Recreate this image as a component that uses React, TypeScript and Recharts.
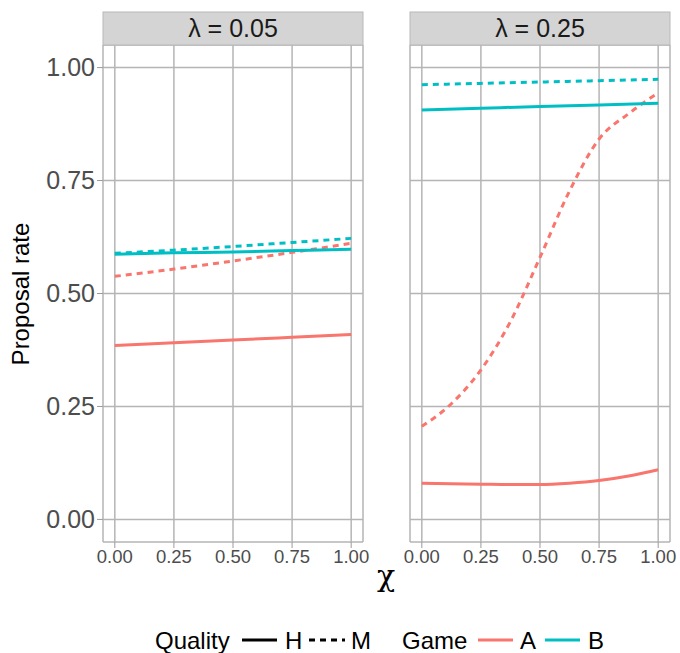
import React from "react";
import { LineChart, Line, XAxis, YAxis, CartesianGrid } from "recharts";

const chiLinear = [0, 0.25, 0.5, 0.75, 1];
const chiCurve = [0, 0.125, 0.25, 0.375, 0.5, 0.625, 0.75, 0.875, 1];
const ticks = [0, 0.25, 0.5, 0.75, 1];

// lambda = 0.05
const lowAH = [0.385, 0.391, 0.397, 0.403, 0.409];
const lowAM = [0.538, 0.554, 0.572, 0.591, 0.611];
const lowBH = [0.587, 0.59, 0.592, 0.595, 0.598];
const lowBM = [0.589, 0.596, 0.604, 0.613, 0.622];

// lambda = 0.25
const highAH = [0.08, 0.079, 0.078, 0.077, 0.077, 0.08, 0.086, 0.096, 0.11];
const highAM = [0.206, 0.256, 0.331, 0.438, 0.58, 0.727, 0.842, 0.898, 0.944];
const highBH = [0.906, 0.91, 0.914, 0.917, 0.921];
const highBM = [0.962, 0.965, 0.968, 0.971, 0.974];

const RED = "#F8766D";
const TEAL = "#00BFC4";
const GRID = "#B5B5B5";
const FONT = "'Liberation Sans', Arial, sans-serif";

const toPts = (xs: number[], ys: number[]) => xs.map((x, i) => ({ x, y: ys[i] }));

type Series = { key: string; data: { x: number; y: number }[]; color: string; dashed: boolean };

const lowSeries: Series[] = [
  { key: "AH", data: toPts(chiLinear, lowAH), color: RED, dashed: false },
  { key: "AM", data: toPts(chiLinear, lowAM), color: RED, dashed: true },
  { key: "BH", data: toPts(chiLinear, lowBH), color: TEAL, dashed: false },
  { key: "BM", data: toPts(chiLinear, lowBM), color: TEAL, dashed: true },
];

const highSeries: Series[] = [
  { key: "AH", data: toPts(chiCurve, highAH), color: RED, dashed: false },
  { key: "AM", data: toPts(chiCurve, highAM), color: RED, dashed: true },
  { key: "BH", data: toPts(chiLinear, highBH), color: TEAL, dashed: false },
  { key: "BM", data: toPts(chiLinear, highBM), color: TEAL, dashed: true },
];

const Panel = ({ series, showY }: { series: Series[]; showY: boolean }) => (
  <LineChart
    width={showY ? 380 : 290}
    height={600}
    margin={{ top: 45, right: showY ? 17 : 10, bottom: 0, left: showY ? 0 : 20 }}
    style={{ overflow: "visible" }}
  >
    <CartesianGrid stroke={GRID} strokeWidth={1.5} />
    <XAxis
      type="number"
      dataKey="x"
      domain={[-0.05, 1.05]}
      ticks={ticks}
      interval={0}
      tickFormatter={(v: number) => v.toFixed(2)}
      axisLine={false}
      tickLine={{ stroke: "#9A9A9A" }}
      tick={{ fill: "#4D4D4D", fontSize: 18.5 }}
      height={58}
      allowDuplicatedCategory={false}
    />
    <YAxis
      type="number"
      domain={[-0.05, 1.05]}
      ticks={ticks}
      tickFormatter={(v: number) => v.toFixed(2)}
      axisLine={false}
      tickLine={{ stroke: "#9A9A9A" }}
      tick={{ fill: "#4D4D4D", fontSize: 25 }}
      width={103}
      hide={!showY}
    />
    {series.map((s) => (
      <Line
        key={s.key}
        data={s.data}
        dataKey="y"
        type="monotone"
        stroke={s.color}
        strokeWidth={3}
        strokeDasharray={s.dashed ? "6 5" : undefined}
        dot={false}
        activeDot={false}
        isAnimationActive={false}
      />
    ))}
  </LineChart>
);

export default function App() {
  return (
    <div
      style={{
        position: "absolute",
        left: 0,
        top: 0,
        width: 680,
        height: 653,
        background: "#fff",
        fontFamily: FONT,
        overflow: "hidden",
      }}
    >
      <div style={{ position: "absolute", left: 0, top: 0 }}>
        <Panel series={lowSeries} showY />
      </div>
      <div style={{ position: "absolute", left: 390, top: 0 }}>
        <Panel series={highSeries} showY={false} />
      </div>
      <svg
        width={680}
        height={653}
        style={{ position: "absolute", left: 0, top: 0, pointerEvents: "none" }}
        fontFamily={FONT}
      >
        <rect x={103} y={12} width={260} height={33} fill="#D4D4D4" stroke="#B8B8B8" strokeWidth={1} />
        <rect x={410} y={12} width={260} height={33} fill="#D4D4D4" stroke="#B8B8B8" strokeWidth={1} />
        <text x={233} y={37} textAnchor="middle" fontSize={25} fill="#1A1A1A">
          λ = 0.05
        </text>
        <text x={540} y={37} textAnchor="middle" fontSize={25} fill="#1A1A1A">
          λ = 0.25
        </text>
        <text x={29} y={294} textAnchor="middle" fontSize={24} fill="#000" transform="rotate(-90 29 294)">
          Proposal rate
        </text>
        <text x={386} y={586} textAnchor="middle" fontSize={30} fill="#000" fontFamily="'DejaVu Serif', serif">
          χ
        </text>
        <text x={155} y={649} fontSize={24} fill="#000">Quality</text>
        <line x1={242} x2={277} y1={640} y2={640} stroke="#000" strokeWidth={3} />
        <text x={285} y={649} fontSize={24} fill="#000">H</text>
        <line x1={309} x2={345} y1={640} y2={640} stroke="#000" strokeWidth={3} strokeDasharray="6 5" />
        <text x={351} y={649} fontSize={24} fill="#000">M</text>
        <text x={402} y={649} fontSize={24} fill="#000">Game</text>
        <line x1={478} x2={513} y1={640} y2={640} stroke={RED} strokeWidth={3} />
        <text x={520} y={649} fontSize={24} fill="#000">A</text>
        <line x1={545} x2={580} y1={640} y2={640} stroke={TEAL} strokeWidth={3} />
        <text x={588} y={649} fontSize={24} fill="#000">B</text>
      </svg>
    </div>
  );
}
